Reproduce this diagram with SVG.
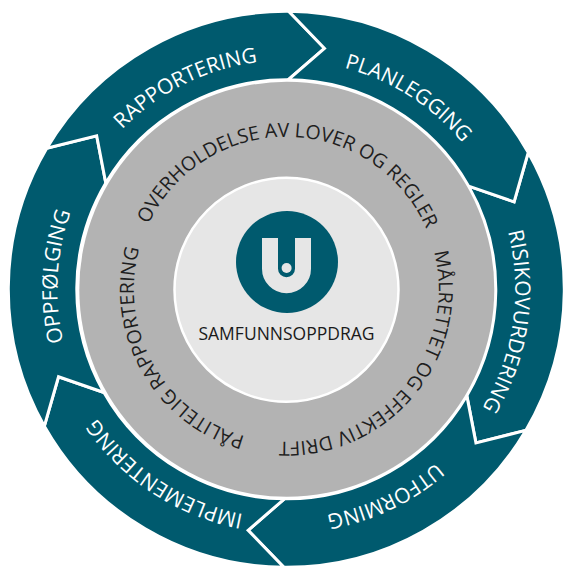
<svg xmlns="http://www.w3.org/2000/svg" width="564" height="567" viewBox="0 0 564 567">
<style>
.seg{fill:#005a6e;stroke:#ffffff;stroke-width:3;stroke-linejoin:miter}
.out{font-family:"Open Sans","Noto Sans","Liberation Sans",sans-serif;font-size:21px;fill:#ffffff}
.inn{font-family:"Open Sans","Noto Sans","Liberation Sans",sans-serif;font-size:19.5px;fill:#1e1e1e}
</style>
<defs>
<path id="pRap" d="M 159.91 480.26 A 229 229 0 1 1 514.87 303.28"/>
<path id="pPlan" d="M 57.52 279.31 A 229 229 0 1 1 392.04 492.43"/>
<path id="pRis" d="M 201.63 76.53 A 229 229 0 1 1 144.39 469.03"/>
<path id="pUtf" d="M 416.01 100.57 A 229 229 0 1 1 58.01 271.33"/>
<path id="pImp" d="M 514.92 302.48 A 229 229 0 1 1 183.41 84.72"/>
<path id="pOpp" d="M 389.55 493.70 A 229 229 0 1 1 411.69 97.68"/>
<path id="pOver" d="M 152.92 363.23 A 152.5 152.5 0 1 1 417.02 367.84"/>
<path id="pMal" d="M 310.81 138.78 A 152.5 152.5 0 1 1 143.70 343.33"/>
<path id="pPal" d="M 417.50 367.05 A 152.5 152.5 0 1 1 288.03 136.81"/>
</defs>

<g id="risikovurdering">
<path class="seg" d="M 528.26 152.41 A 278 278 0 0 1 525.83 430.40 L 475.92 442.85 L 466.81 395.63 A 209.5 209.5 0 0 0 468.64 186.14 L 514.09 201.86 Z"/>
<text class="out"><textPath href="#pRis" startOffset="50%" text-anchor="middle">RISIKOVURDERING</textPath></text>
</g>
<g id="utforming">
<path class="seg" d="M 525.83 430.40 A 278 278 0 0 1 283.87 567.29 L 248.13 530.30 L 284.47 498.79 A 209.5 209.5 0 0 0 466.81 395.63 L 475.92 442.85 Z"/>
<text class="out"><textPath href="#pUtf" startOffset="50%" text-anchor="middle">UTFORMING</textPath></text>
</g>
<g id="implementering">
<path class="seg" d="M 283.87 567.29 A 278 278 0 0 1 44.34 426.19 L 58.51 376.74 L 103.96 392.46 A 209.5 209.5 0 0 0 284.47 498.79 L 248.13 530.30 Z"/>
<text class="out"><textPath href="#pImp" startOffset="50%" text-anchor="middle">IMPLEMENTERING</textPath></text>
</g>
<g id="oppfolging">
<path class="seg" d="M 44.34 426.19 A 278 278 0 0 1 46.77 148.20 L 96.68 135.75 L 105.79 182.97 A 209.5 209.5 0 0 0 103.96 392.46 L 58.51 376.74 Z"/>
<text class="out"><textPath href="#pOpp" startOffset="50%" text-anchor="middle">OPPFØLGING</textPath></text>
</g>
<g id="rapportering">
<path class="seg" d="M 46.77 148.20 A 278 278 0 0 1 288.73 11.31 L 324.47 48.30 L 288.13 79.81 A 209.5 209.5 0 0 0 105.79 182.97 L 96.68 135.75 Z"/>
<text class="out"><textPath href="#pRap" startOffset="50%" text-anchor="middle">RAPPORTERING</textPath></text>
</g>
<g id="planlegging">
<path class="seg" d="M 288.73 11.31 A 278 278 0 0 1 528.26 152.41 L 514.09 201.86 L 468.64 186.14 A 209.5 209.5 0 0 0 288.13 79.81 L 324.47 48.30 Z"/>
<text class="out"><textPath href="#pPlan" startOffset="50%" text-anchor="middle">PLANLEGGING</textPath></text>
</g>

<g id="verdier">
<circle cx="286.8" cy="289.3" r="207.5" fill="#b3b3b3"/>
<text class="inn"><textPath href="#pOver" startOffset="50%" text-anchor="middle">OVERHOLDELSE AV LOVER OG REGLER</textPath></text>
<text class="inn"><textPath href="#pMal" startOffset="50%" text-anchor="middle">MÅLRETTET OG EFFEKTIV DRIFT</textPath></text>
<text class="inn"><textPath href="#pPal" startOffset="50%" text-anchor="middle">PÅLITELIG RAPPORTERING</textPath></text>
</g>

<g id="samfunnsoppdrag">
<circle cx="286.5" cy="289.8" r="112" fill="#e6e6e6" stroke="#ffffff" stroke-width="2.5"/>
<circle cx="287" cy="262" r="51" fill="#005a6e"/>
<path d="M 270 238 V 268.8 A 16.5 16.5 0 0 0 303 268.8 V 238" fill="none" stroke="#e6e6e6" stroke-width="16"/>
<circle cx="286.6" cy="268" r="5" fill="#e6e6e6"/>
<text x="286.5" y="340" text-anchor="middle" font-family="Open Sans, Noto Sans, Liberation Sans, sans-serif" font-size="17.5" fill="#1a1a1a">SAMFUNNSOPPDRAG</text>
</g>
</svg>
